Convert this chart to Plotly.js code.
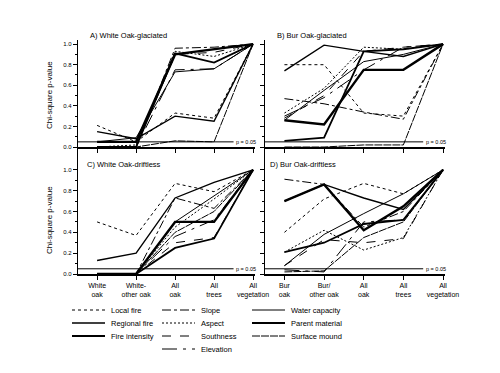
<!DOCTYPE html>
<html>
<head>
<meta charset="utf-8">
<script src="https://cdn.plot.ly/plotly-3.0.1.min.js"></script>
<style>html,body{margin:0;padding:0;background:#fff;}#chart{width:500px;height:373px;}</style>
</head>
<body>
<div id="chart"></div>
<script>
// ---- data ----
const xPos = [0, 1, 2, 3, 4];
const whiteTickLabels = ['White<br>oak', 'White-<br>other oak', 'All<br>oak', 'All<br>trees', 'All<br>vegetation'];
const burTickLabels = ['Bur<br>oak', 'Bur/<br>other oak', 'All<br>oak', 'All<br>trees', 'All<br>vegetation'];
const seriesNames = ['Local fire', 'Regional fire', 'Fire intensity', 'Slope', 'Aspect', 'Southness', 'Elevation', 'Water capacity', 'Parent material', 'Surface mound'];
const panelTitles = ['A) White Oak-glaciated', 'B) Bur Oak-glaciated', 'C) White Oak-driftless', 'D) Bur Oak-driftless'];
const pThreshold = 0.05;

// values per panel, one array per series (order as seriesNames)
const whiteGlaciated = [
  [0.21, 0.05, 0.33, 0.28, 1.0],
  [0.15, 0.08, 0.30, 0.25, 1.0],
  [0.05, 0.05, 0.90, 0.95, 1.0],
  [0.00, 0.00, 0.96, 0.97, 1.0],
  [0.00, 0.02, 0.93, 0.88, 1.0],
  [0.00, 0.00, 0.90, 0.92, 1.0],
  [0.00, 0.00, 0.75, 0.76, 1.0],
  [0.05, 0.09, 0.73, 0.76, 1.0],
  [0.00, 0.00, 0.91, 0.82, 1.0],
  [0.00, 0.00, 0.06, 0.05, 1.0]
];
const burGlaciated = [
  [0.80, 0.80, 0.33, 0.30, 1.0],
  [0.74, 0.99, 0.93, 0.88, 1.0],
  [0.26, 0.22, 0.75, 0.75, 1.0],
  [0.47, 0.42, 0.34, 0.27, 1.0],
  [0.33, 0.57, 0.97, 0.95, 1.0],
  [0.28, 0.50, 0.93, 0.97, 1.0],
  [0.30, 0.48, 0.75, 0.97, 1.0],
  [0.26, 0.55, 0.83, 0.90, 1.0],
  [0.06, 0.09, 0.93, 0.95, 1.0],
  [0.00, 0.00, 0.02, 0.02, 1.0]
];
const whiteDriftless = [
  [0.50, 0.37, 0.87, 0.79, 1.0],
  [0.13, 0.20, 0.73, 0.88, 1.0],
  [0.00, 0.00, 0.50, 0.50, 1.0],
  [0.00, 0.00, 0.73, 0.63, 1.0],
  [0.00, 0.00, 0.45, 0.72, 1.0],
  [0.00, 0.00, 0.30, 0.35, 1.0],
  [0.00, 0.00, 0.36, 0.52, 1.0],
  [0.00, 0.00, 0.50, 0.75, 1.0],
  [0.00, 0.00, 0.25, 0.34, 1.0],
  [0.00, 0.00, 0.40, 0.60, 1.0]
];
const burDriftless = [
  [0.40, 0.72, 0.87, 0.77, 1.0],
  [0.70, 0.86, 0.73, 0.62, 1.0],
  [0.70, 0.86, 0.42, 0.65, 1.0],
  [0.91, 0.86, 0.45, 0.60, 1.0],
  [0.21, 0.42, 0.23, 0.35, 1.0],
  [0.08, 0.33, 0.30, 0.34, 1.0],
  [0.04, 0.02, 0.50, 0.52, 1.0],
  [0.08, 0.38, 0.58, 0.77, 1.0],
  [0.21, 0.30, 0.48, 0.52, 1.0],
  [0.02, 0.03, 0.35, 0.50, 1.0]
];

// ---- styles ----
const lineStyles = [
  {dash: 'dot', width: 1},
  {dash: 'solid', width: 1.4},
  {dash: 'solid', width: 2.4},
  {dash: 'dashdot', width: 1},
  {dash: '2px,2px', width: 1},
  {dash: 'dash', width: 1},
  {dash: 'longdashdot', width: 1},
  {dash: 'solid', width: 1},
  {dash: 'solid', width: 1.8},
  {dash: '8px,1px', width: 1}
];

const FONT = 'Liberation Sans, Arial, sans-serif';
const panels = [whiteGlaciated, burGlaciated, whiteDriftless, burDriftless];
const axisIds = [['x', 'y'], ['x2', 'y2'], ['x3', 'y3'], ['x4', 'y4']];

const traces = [];
panels.forEach((panel, p) => {
  panel.forEach((vals, i) => {
    traces.push({
      type: 'scatter', mode: 'lines', x: xPos, y: vals, name: seriesNames[i],
      xaxis: axisIds[p][0], yaxis: axisIds[p][1], showlegend: false,
      line: {color: '#000', dash: lineStyles[i].dash, width: lineStyles[i].width}
    });
  });
  traces.push({
    type: 'scatter', mode: 'lines', x: [-0.49, 3.5], y: [pThreshold, pThreshold],
    xaxis: axisIds[p][0], yaxis: axisIds[p][1], showlegend: false,
    line: {color: '#000', width: 1}, hoverinfo: 'skip'
  });
});

const W = 500, H = 373;
const px = v => v / W;
const py = v => 1 - v / H;

function xaxis(dom, labels) {
  return {
    domain: dom, range: [-0.49, 4.05], showline: true, linecolor: '#000', linewidth: 1.5,
    ticks: 'outside', ticklen: 4, tickcolor: '#000', tickvals: xPos,
    ticktext: labels || xPos.map(() => ''), showticklabels: !!labels,
    showgrid: false, zeroline: false, fixedrange: true,
    tickfont: {family: FONT, size: 7, color: '#000'}
  };
}
function yaxis(dom, top, anchor, labels) {
  return {
    domain: dom, range: [0, top], anchor: anchor, showline: true, linecolor: '#000', linewidth: 1.2,
    ticks: 'outside', ticklen: 4, tickcolor: '#000', tickvals: [0, 0.2, 0.4, 0.6, 0.8, 1.0],
    ticktext: ['0.0', '0.2', '0.4', '0.6', '0.8', '1.0'], showticklabels: labels,
    minor: {tickvals: [0.1, 0.3, 0.5, 0.7, 0.9], ticks: 'outside', ticklen: 2, tickcolor: '#000'},
    showgrid: false, zeroline: false, fixedrange: true,
    tickfont: {family: FONT, size: 6, color: '#000'}
  };
}

const leftDom = [px(78), px(255)], rightDom = [px(265), px(445)];
const topDom = [py(147), py(40)], botDom = [py(274), py(149)];

const annotations = [];
const shapes = [];
const titlePos = [[px(88), py(36)], [px(275), py(36)], [px(85), py(164)], [px(268), py(164)]];
panelTitles.forEach((t, i) => {
  annotations.push({text: t, xref: 'paper', yref: 'paper', x: titlePos[i][0], y: titlePos[i][1],
    xanchor: 'left', yanchor: 'middle', showarrow: false, font: {family: FONT, size: 7.5, color: '#000'}});
});
axisIds.forEach((ids, i) => {
  annotations.push({text: 'p = 0.05', xref: ids[0], yref: ids[1], x: 3.52, y: pThreshold,
    xanchor: 'left', yanchor: 'middle', showarrow: false, font: {family: FONT, size: 5.5, color: '#000'}});
});
[95, 220].forEach(yc => {
  annotations.push({text: 'Chi-square p-value', xref: 'paper', yref: 'paper', x: px(50), y: py(yc),
    textangle: -90, showarrow: false, xanchor: 'center', yanchor: 'middle',
    font: {family: FONT, size: 8, color: '#000'}});
});

// legend (drawn manually in three columns)
const legendCols = [[0, 1, 2], [3, 4, 5, 6], [7, 8, 9]];
const colX = [72, 162, 252];
const rowY = [310, 323, 336, 349];
legendCols.forEach((col, c) => {
  col.forEach((si, r) => {
    shapes.push({type: 'line', xref: 'paper', yref: 'paper', x0: px(colX[c]), x1: px(colX[c] + 33),
      y0: py(rowY[r]), y1: py(rowY[r]),
      line: {color: '#000', dash: lineStyles[si].dash, width: Math.min(lineStyles[si].width, 2)}});
    annotations.push({text: seriesNames[si], xref: 'paper', yref: 'paper', x: px(colX[c] + 37), y: py(rowY[r]),
      xanchor: 'left', yanchor: 'middle', showarrow: false, font: {family: FONT, size: 7.5, color: '#000'}});
  });
});

const layout = {
  width: W, height: H, margin: {l: 0, r: 0, t: 0, b: 0},
  paper_bgcolor: '#fff', plot_bgcolor: '#fff', showlegend: false,
  font: {family: FONT, color: '#000'},
  xaxis: Object.assign(xaxis(leftDom, null), {anchor: 'y'}),
  yaxis: yaxis(topDom, 1.04, 'x', true),
  xaxis2: Object.assign(xaxis(rightDom, null), {anchor: 'y2'}),
  yaxis2: yaxis(topDom, 1.04, 'x2', false),
  xaxis3: Object.assign(xaxis(leftDom, whiteTickLabels), {anchor: 'y3'}),
  yaxis3: yaxis(botDom, 1.2, 'x3', true),
  xaxis4: Object.assign(xaxis(rightDom, burTickLabels), {anchor: 'y4'}),
  yaxis4: yaxis(botDom, 1.2, 'x4', false),
  annotations: annotations, shapes: shapes
};

Plotly.newPlot('chart', traces, layout, {staticPlot: true, displayModeBar: false});
</script>
</body>
</html>
